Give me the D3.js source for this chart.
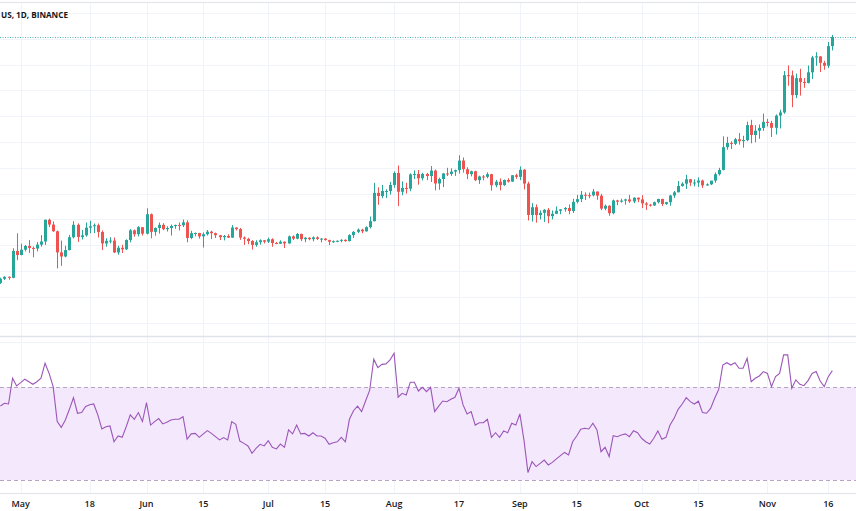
<!DOCTYPE html>
<html><head><meta charset="utf-8">
<script src="https://cdn.jsdelivr.net/npm/d3@7"></script>
<style>body{margin:0;background:#fff}svg{display:block}</style>
</head><body><svg id="c" width="856" height="511"></svg>
<script>
const title = "US, 1D, BINANCE";
const startDate = "2020-04-26";
const opens = [7540,7697,7774,7738,8778,
8620,8826,8972,8894,8871,9022,9143,9986,9800,9539,8722,8562,8810,9309,9791,9316,9381,9680,9733,9775,9511,9068,9170,9179,8720,8900,8842,9204,9575,9427,9697,
9448,10200,9518,9666,9789,9621,9666,9746,9782,9772,9885,9280,9465,9473,9342,9426,9525,9465,9386,9310,9358,9294,9685,9624,9296,9249,9162,9012,9116,9192,
9138,9232,9086,9058,9135,9069,9342,9253,9436,9233,9288,9234,9303,9243,9255,9197,9133,9154,9170,9208,9160,9390,9518,9603,9538,9700,9931,11029,10906,11100,11100,
11335,11801,11071,11220,11191,11744,11762,11594,11761,11681,11892,11392,11565,11780,11760,11852,11911,12281,11945,11754,11866,11522,11664,11649,11753,11324,11461,11330,11527,11465,11711,
11650,11925,11388,10171,10472,10169,10255,10373,10126,10219,10336,10391,10442,10324,10680,10786,10954,10939,10933,11080,10920,10418,10529,10241,10736,10686,10728,10774,10696,10841,
10776,10619,10570,10542,10666,10792,10599,10668,10925,11050,11296,11384,11555,11425,11430,11505,11319,11360,11503,11751,11917,12800,12965,12931,13108,13031,13072,13654,13271,13437,13546,
13781,13737,13550,14024,14146,15590,15580,14818,15475,15328,15290,15701,16276,16317,16068,15955,16716];
const highs = [7740,7800,7790,8880,9460,
9060,9010,9200,8950,9120,9390,9990,10030,9920,9570,9180,8980,9400,9930,9845,9590,9880,9950,9840,9840,9575,9270,9310,9300,8980,9017,9225,9625,9605,9740,9700,
10430,10230,9690,9881,9854,9735,9800,9800,9877,9992,9964,9557,9494,9480,9495,9589,9560,9489,9400,9395,9422,9780,9686,9670,9341,9283,9196,9192,9230,9200,
9292,9270,9125,9190,9145,9375,9379,9470,9450,9317,9306,9345,9343,9280,9272,9213,9187,9190,9230,9225,9424,9544,9650,9637,9732,10111,11415,11242,11335,11169,11454,
11862,12090,11473,11418,11786,11902,11915,11808,11805,12067,11935,11617,11800,12000,11980,11931,12486,12400,12021,11888,11886,11694,11718,11824,11768,11530,11590,11545,11595,11719,11770,
12050,11950,11462,10633,10580,10350,10400,10440,10347,10500,10400,10480,10579,10800,10950,11100,11050,11040,11180,11080,10990,10574,10550,10770,10760,10800,10800,10950,10860,10850,
10940,10670,10600,10690,10800,10800,10680,10955,11100,11490,11440,11730,11560,11550,11630,11540,11400,11490,11820,12000,13220,13200,13030,13160,13350,13240,13790,13860,13650,13680,14100,
13895,13820,14070,14250,15750,15965,15770,15650,15840,15480,15965,16340,16480,16325,16145,16880,17150];
const lows = [7500,7650,7660,7720,8420,
8610,8760,8700,8530,8760,8940,9010,9700,9520,8100,8200,8530,8800,9260,9130,9220,9330,9460,9470,9300,8815,8940,9070,8700,8630,8700,8811,9110,9330,9340,9375,
9420,9266,9365,9450,9581,9531,9372,9633,9570,9704,9113,9237,9347,9253,8910,9373,9236,9280,9200,9185,9280,9281,9570,9207,9010,9040,8833,8940,9024,9068,
9086,8940,9040,9050,8893,9055,9200,9230,9160,9118,9190,9150,9200,9113,9180,9005,9089,9121,9110,9131,9146,9283,9468,9463,9525,9650,9920,10565,10822,10833,10960,
11227,10518,10936,11000,11093,11562,11347,11510,11521,11450,11125,11150,11254,11680,11686,11686,11776,11817,11561,11668,11485,11376,11514,11595,11117,11244,11125,11300,11426,11458,11573,
11520,11163,9960,9915,9875,10000,9900,9851,10000,10200,10200,10300,10200,10250,10620,10670,10750,10820,10890,10760,10360,10350,10140,10200,10550,10650,10570,10640,10630,10670,
10440,10370,10500,10520,10620,10520,10560,10530,10830,11050,11270,11180,11300,11280,11260,11220,11300,11330,11420,11700,11900,12700,12730,12880,12900,12780,13030,12950,12990,13125,13430,
13600,13195,13290,13525,14090,15180,14350,14700,14800,15100,15270,15440,15950,15710,15800,15870,16550];
const closes = [7697,7774,7738,8778,8620,
8826,8972,8894,8871,9022,9143,9986,9800,9539,8722,8562,8810,9309,9791,9316,9381,9680,9733,9775,9511,9068,9170,9179,8720,8900,8842,9204,9575,9427,9697,9448,
10200,9518,9666,9789,9621,9666,9746,9782,9772,9885,9280,9465,9473,9342,9426,9525,9465,9386,9310,9358,9294,9685,9624,9296,9249,9162,9012,9116,9192,9138,
9232,9086,9058,9135,9069,9342,9253,9436,9233,9288,9234,9303,9243,9255,9197,9133,9154,9170,9208,9160,9390,9518,9603,9538,9700,9931,11029,10906,11100,11100,11335,
11801,11071,11220,11191,11744,11762,11594,11761,11681,11892,11392,11565,11780,11760,11852,11911,12281,11945,11754,11866,11522,11664,11649,11753,11324,11461,11330,11527,11465,11711,11650,
11925,11388,10171,10472,10169,10255,10373,10126,10219,10336,10391,10442,10324,10680,10786,10954,10939,10933,11080,10920,10418,10529,10241,10736,10686,10728,10774,10696,10841,10776,
10619,10570,10542,10666,10792,10599,10668,10925,11050,11296,11384,11555,11425,11430,11505,11319,11360,11503,11751,11917,12800,12965,12931,13108,13031,13072,13654,13271,13437,13546,13781,
13737,13550,14024,14146,15590,15580,14818,15475,15328,15290,15701,16276,16317,16068,15955,16716,17070];
const rsiValues = [61.9,63.1,62.8,73.9,70.6,
72.0,73.5,72.4,71.3,72.4,73.9,80.4,76.0,70.3,55.2,52.7,55.9,60.5,65.5,58.8,59.1,61.7,62.5,62.8,58.1,52.0,53.0,53.3,46.5,49.0,48.4,53.0,58.1,56.2,59.1,55.2,
63.4,53.7,55.2,56.5,54.2,54.9,55.9,56.2,56.2,57.3,47.6,49.9,50.1,48.4,49.9,51.3,50.1,48.7,47.3,48.3,47.3,55.2,54.0,46.8,45.8,44.7,41.5,43.7,45.4,44.7,
47.0,44.1,43.4,45.5,44.1,51.6,49.9,53.7,49.9,50.1,49.0,50.4,49.0,49.0,48.0,45.4,46.1,46.5,48.4,46.5,56.2,59.9,61.9,59.5,64.2,68.8,82.1,78.5,79.9,80.1,81.8,
84.7,65.7,67.4,66.7,72.2,72.2,68.4,70.0,68.1,70.0,59.5,61.9,64.1,63.8,64.8,65.7,69.6,62.4,58.5,59.5,53.7,54.7,54.7,56.2,48.4,50.4,48.4,51.2,50.4,54.5,53.7,
58.5,47.3,33.2,37.9,35.8,37.2,38.6,36.5,37.6,39.1,40.5,41.9,40.8,46.5,49.0,51.9,52.3,52.0,54.5,51.6,42.2,44.1,40.1,49.1,48.7,49.4,49.9,48.7,51.3,50.4,
48.0,46.5,45.5,48.0,51.2,47.6,48.4,53.7,56.6,60.5,62.8,65.5,63.8,62.8,64.0,59.1,58.8,60.9,65.3,69.1,79.6,80.6,79.6,80.6,78.2,78.2,82.5,72.4,73.9,74.9,76.8,
76.0,70.3,74.6,76.0,84.0,84.0,69.6,73.2,71.3,70.7,72.9,76.0,76.8,72.7,70.3,74.6,77.2];
const tickDates = ["2020-05-01","2020-05-18","2020-06-01","2020-06-15","2020-07-01","2020-07-15","2020-08-01","2020-08-17","2020-09-01","2020-09-15","2020-10-01","2020-10-15","2020-11-01","2020-11-16"];
const tickLabels = ["May","18","Jun","15","Jul","15","Aug","17","Sep","15","Oct","15","Nov","16"];
const priceGrid = [6000,7000,8000,9000,10000,11000,12000,13000,14000,15000,16000,17000,18000];
const rsiBands = [70, 30];

const W = 856, H = 511;
const parse = d3.utcParse("%Y-%m-%d");
const start = parse(startDate);
const dates = d3.utcDay.range(start, d3.utcDay.offset(start, closes.length));
const candles = dates.map((d, i) => ({date: d, o: opens[i], h: highs[i], l: lows[i], c: closes[i], r: rsiValues[i]}));

const x = d3.scaleUtc().domain([parse("2020-05-01"), parse("2020-11-16")]).range([20.7, 828.3]);
const y = d3.scaleLinear().domain([6000, 18000]).range([322.6, 13]);
const yr = d3.scaleLinear().domain([30, 70]).range([480, 387.3]);

const svg = d3.select("#c");
const font = "'Open Sans', 'Noto Sans', sans-serif";
const gridCol = "#f0f3fa";

const defs = svg.append("defs");
defs.append("clipPath").attr("id","mainClip").append("rect").attr("x",0).attr("y",3).attr("width",W).attr("height",333);
defs.append("clipPath").attr("id","rsiClip").append("rect").attr("x",0).attr("y",343).attr("width",W).attr("height",150);

// vertical grid
const tds = tickDates.map(parse);
svg.append("g").selectAll("line").data(tds).join("line")
  .attr("x1", d => Math.round(x(d)) + 0.5).attr("x2", d => Math.round(x(d)) + 0.5)
  .attr("y1", 3).attr("y2", 493).attr("stroke", gridCol).attr("stroke-width", 1);

// horizontal grid main
svg.append("g").selectAll("line").data(priceGrid).join("line")
  .attr("x1", 0).attr("x2", W)
  .attr("y1", d => Math.round(y(d)) + 0.5).attr("y2", d => Math.round(y(d)) + 0.5)
  .attr("stroke", gridCol);

svg.append("line").attr("x1",0).attr("x2",W).attr("y1",2.5).attr("y2",2.5).attr("stroke","#e0e3eb");
svg.append("line").attr("x1",0).attr("x2",W).attr("y1",336.5).attr("y2",336.5).attr("stroke","#e0e3eb").attr("stroke-width",1.5);
svg.append("line").attr("x1",0).attr("x2",W).attr("y1",342.5).attr("y2",342.5).attr("stroke",gridCol);
svg.append("line").attr("x1",0).attr("x2",W).attr("y1",493.5).attr("y2",493.5).attr("stroke","#e0e3eb");

// last price line
const last = candles[candles.length - 1];
svg.append("line").attr("x1",0).attr("x2",W)
  .attr("y1", Math.round(y(last.c)) + 0.5).attr("y2", Math.round(y(last.c)) + 0.5)
  .attr("stroke","#26a69a").attr("stroke-dasharray","1,1.5").attr("stroke-width",1).attr("opacity",0.8);

// candles
const up = "#26a69a", down = "#ef5350";
const cg = svg.append("g").attr("clip-path","url(#mainClip)");
const bw = 3;
cg.selectAll("line.wick").data(candles).join("line").attr("class","wick")
  .attr("x1", d => Math.round(x(d.date)) + 0.5).attr("x2", d => Math.round(x(d.date)) + 0.5)
  .attr("y1", d => y(d.h)).attr("y2", d => y(d.l))
  .attr("stroke", d => d.c >= d.o ? up : down).attr("stroke-width", 1);
cg.selectAll("rect.body").data(candles).join("rect").attr("class","body")
  .attr("x", d => Math.round(x(d.date)) - 1)
  .attr("width", bw)
  .attr("y", d => y(Math.max(d.o, d.c)))
  .attr("height", d => Math.max(1, Math.abs(y(d.o) - y(d.c))))
  .attr("fill", d => d.c >= d.o ? up : down);

// RSI pane
const rg = svg.append("g").attr("clip-path","url(#rsiClip)");
rg.append("rect").attr("x",0).attr("width",W)
  .attr("y", yr(rsiBands[0])).attr("height", yr(rsiBands[1]) - yr(rsiBands[0]))
  .attr("fill","#f3e8fc");
rg.selectAll("line.band").data(rsiBands).join("line").attr("class","band")
  .attr("x1",0).attr("x2",W)
  .attr("y1", d => Math.round(yr(d)) + 0.5).attr("y2", d => Math.round(yr(d)) + 0.5)
  .attr("stroke","#b7a4c4").attr("stroke-dasharray","4,3");
rg.append("path").datum(candles)
  .attr("d", d3.line().x(d => x(d.date)).y(d => yr(d.r)))
  .attr("fill","none").attr("stroke","#9c56b8").attr("stroke-width",1.1);

// x-axis labels
svg.append("g").selectAll("text").data(tds).join("text")
  .attr("x", d => x(d)).attr("y", 506.5)
  .attr("text-anchor","middle")
  .attr("font-family", font).attr("font-size", 9).attr("font-weight", 600)
  .attr("fill","#131722")
  .text((d, i) => tickLabels[i]);

// title (legend) — visible part of the reference legend
svg.append("text").attr("x", 1).attr("y", 17.5)
  .attr("font-family", font).attr("font-size", 9).attr("font-weight", 700)
  .attr("textLength", 67).attr("lengthAdjust", "spacingAndGlyphs")
  .attr("fill","#131722").text(title);
</script>
</body></html>
